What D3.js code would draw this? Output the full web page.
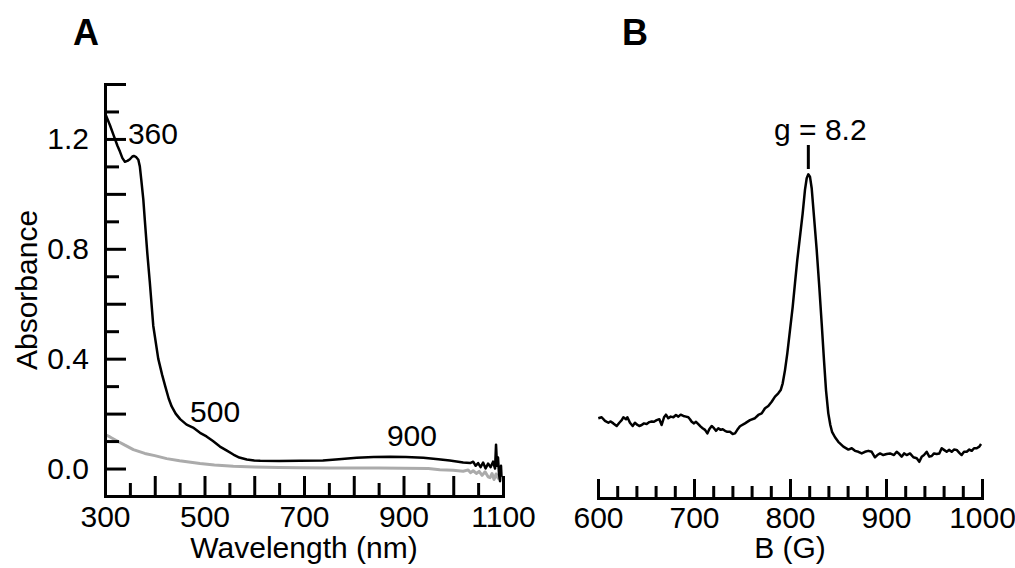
<!DOCTYPE html>
<html>
<head>
<meta charset="utf-8">
<script src="https://cdn.jsdelivr.net/npm/d3@7"></script>
<style>
  body { margin: 0; background: #fff; }
  svg { display: block; }
  text { font-family: "Liberation Sans", Arial, Helvetica, sans-serif; fill: #000; }
</style>
</head>
<body>
<div id="container"></div>
<script>
// ---- panel A: UV-vis spectrum ----
const wlSample = [302, 310, 317, 325, 330, 335, 340, 345, 350, 355, 358, 362, 367, 370, 373, 377, 380, 385, 390, 397,
  407, 415, 421, 428, 434, 442, 451, 464, 477, 491, 504, 517, 531, 545, 558, 570, 585, 600, 612, 650,
  692, 738, 770, 806, 840, 873, 905, 940, 970, 993, 1010, 1020, 1034, 1040, 1045, 1050, 1055, 1060, 1065, 1070,
  1075, 1080, 1084, 1086, 1088, 1090, 1092, 1094, 1096, 1097];
const absSample = [1.285, 1.25, 1.215, 1.175, 1.154, 1.13, 1.117, 1.12, 1.126, 1.136, 1.138, 1.135, 1.124, 1.10, 1.05, 0.98, 0.905, 0.785, 0.68, 0.52,
  0.40, 0.34, 0.30, 0.255, 0.226, 0.20, 0.18, 0.16, 0.149, 0.13, 0.117, 0.10, 0.08, 0.065, 0.051, 0.04, 0.033, 0.029, 0.028, 0.027,
  0.028, 0.029, 0.034, 0.039, 0.042, 0.043, 0.042, 0.039, 0.034, 0.029, 0.025, 0.022, 0.02, 0.025, 0.01, 0.02, 0.005, 0.022, 0.0, 0.018,
  0.005, 0.025, 0.0, 0.087, 0.01, 0.04, -0.02, -0.046, 0.01, -0.03];

const wlControl = [300, 310, 320, 330, 340, 357, 380, 400, 424, 450, 491, 520, 558, 600, 650, 692, 750, 850, 950, 973,
  1000, 1020, 1030, 1035, 1040, 1047, 1052, 1058, 1064, 1070, 1074, 1078, 1082, 1086, 1090, 1095];
const absControl = [0.124, 0.115, 0.105, 0.095, 0.085, 0.069, 0.055, 0.047, 0.036, 0.028, 0.018, 0.013, 0.008, 0.006, 0.004, 0.003, 0.002, 0.002, 0.0, -0.004,
  -0.006, -0.01, -0.005, -0.015, -0.008, -0.018, -0.01, -0.025, -0.012, -0.03, -0.033, -0.018, -0.04, -0.02, -0.035, -0.03];

const wlMajorTicks = [300, 400, 500, 600, 700, 800, 900, 1000, 1100];
const wlMinorTicks = [350, 450, 550, 650, 750, 850, 950, 1050];
const wlLabels = [300, 500, 700, 900, 1100];
const absMajorTicks = [0, 0.2, 0.4, 0.6, 0.8, 1.0, 1.2, 1.4];
const absMinorTicks = [0.1, 0.3, 0.5, 0.7, 0.9, 1.1, 1.3];
const absLabels = [0, 0.4, 0.8, 1.2];

const peakLabels = [
  { text: "360", wl: 346, abs: 1.18, anchor: "start" },
  { text: "500", wl: 471, abs: 0.17, anchor: "start" },
  { text: "900", wl: 917, abs: 0.082, anchor: "middle" },
];

// ---- panel B: EPR spectrum ----
const eprField = [600.3, 603.8, 607.3, 610.8, 613.2, 616.0, 619.5, 622.2, 624.7, 626.4, 629.2, 630.6, 633.3, 636.1, 638.5, 640.3, 643.0, 645.5, 647.9, 650.7,
  653.5, 655.9, 658.3, 661.1, 663.9, 666.3, 668.8, 670.8, 673.2, 675.7, 678.5, 681.2, 683.7, 686.1, 688.9, 691.7, 694.1, 695.8, 697.6, 700.0,
  702.1, 704.5, 707.0, 709.0, 711.5, 713.9, 715.9, 718.4, 720.8, 722.9, 725.3, 727.8, 729.9, 732.3, 734.7, 737.5, 740.3, 742.7, 745.1, 747.9,
  753.1, 758.3, 763.5, 767.0, 770.5, 774.0, 777.4, 780.9, 784.4, 787.8, 790.3, 792.4, 794.8, 797.2, 800.0, 802.8, 805.2, 807.6, 810.4, 813.2,
  815.6, 817.4, 819.1, 820.8, 822.6, 825.0, 827.8, 830.5, 833.0, 835.4, 837.5, 839.9, 842.0, 843.8, 846.9, 850.3, 855.6, 860.8, 864.3, 867.7,
  871.2, 874.7, 878.1, 881.6, 885.1, 888.5, 891.0, 893.8, 897.2, 900.7, 904.2, 908.3, 911.1, 913.9, 916.3, 918.8, 921.5, 925.0, 928.5, 932.0,
  934.7, 937.2, 939.6, 942.4, 945.1, 947.6, 950.0, 952.8, 955.5, 958.0, 960.4, 963.2, 965.9, 968.4, 970.8, 973.6, 976.4, 978.8, 981.3, 984.1,
  986.8, 989.3, 991.7, 994.5, 997.2, 999.0];
const eprSignal = [0.247, 0.250, 0.239, 0.233, 0.237, 0.231, 0.223, 0.233, 0.241, 0.250, 0.244, 0.250, 0.233, 0.223, 0.233, 0.228, 0.223, 0.226, 0.231, 0.229,
  0.235, 0.237, 0.236, 0.241, 0.244, 0.226, 0.250, 0.258, 0.247, 0.252, 0.250, 0.257, 0.252, 0.258, 0.254, 0.252, 0.250, 0.244, 0.236, 0.231,
  0.236, 0.229, 0.221, 0.216, 0.211, 0.200, 0.213, 0.223, 0.216, 0.208, 0.216, 0.211, 0.213, 0.208, 0.205, 0.205, 0.198, 0.200, 0.211, 0.222,
  0.231, 0.241, 0.247, 0.257, 0.262, 0.278, 0.285, 0.298, 0.314, 0.324, 0.334, 0.355, 0.396, 0.448, 0.520, 0.592, 0.665, 0.737, 0.809, 0.881,
  0.954, 0.990, 1.002, 0.995, 0.959, 0.871, 0.768, 0.654, 0.541, 0.427, 0.334, 0.262, 0.226, 0.205, 0.188, 0.174, 0.159, 0.150, 0.154, 0.146,
  0.143, 0.138, 0.143, 0.146, 0.143, 0.126, 0.133, 0.138, 0.133, 0.136, 0.138, 0.133, 0.143, 0.136, 0.128, 0.138, 0.133, 0.138, 0.126, 0.123,
  0.112, 0.128, 0.133, 0.143, 0.128, 0.130, 0.138, 0.136, 0.138, 0.154, 0.149, 0.143, 0.149, 0.143, 0.150, 0.149, 0.140, 0.133, 0.143, 0.143,
  0.150, 0.146, 0.154, 0.154, 0.159, 0.167];

const fieldMajorTicks = [600, 700, 800, 900, 1000];
const fieldMinorTicks = [620, 640, 660, 680, 720, 740, 760, 780, 820, 840, 860, 880, 920, 940, 960, 980];
const gPeakField = 819.1;

const width = 1015;
const height = 568;
const fontSize = 30;

const svg = d3
  .select("#container")
  .append("svg")
  .attr("width", width)
  .attr("height", height);

// panel letters
svg.append("text").attr("x", 73).attr("y", 45)
  .attr("font-size", "36px").attr("font-weight", "bold").text("A");
svg.append("text").attr("x", 622).attr("y", 45)
  .attr("font-size", "36px").attr("font-weight", "bold").text("B");

function styleAxis(g) {
  g.select(".domain").attr("stroke", "#000").attr("stroke-width", 3).attr("stroke-linecap", "square");
  g.selectAll(".tick line").attr("stroke", "#000").attr("stroke-width", 3);
  g.selectAll(".tick text").attr("font-size", `${fontSize}px`).attr("font-family", null).attr("fill", "#000");
}

// ===== panel A =====
const xA = d3.scaleLinear().domain([300, 1100]).range([105, 503]);
const yA = d3.scaleLinear().domain([-0.1, 1.4]).range([496, 84]);

const lineA = d3.line().x((d) => xA(d[0])).y((d) => yA(d[1]));

svg.append("path")
  .datum(d3.zip(wlControl, absControl))
  .attr("fill", "none").attr("stroke", "#ababab").attr("stroke-width", 3)
  .attr("stroke-linejoin", "round")
  .attr("d", lineA);

svg.append("path")
  .datum(d3.zip(wlSample, absSample))
  .attr("fill", "none").attr("stroke", "#000").attr("stroke-width", 2.5)
  .attr("stroke-linejoin", "round")
  .attr("d", lineA);

// minor ticks first, then major axis with labels
svg.append("g")
  .attr("transform", `translate(0, ${yA(-0.1)})`)
  .call(d3.axisBottom(xA).tickValues(wlMinorTicks).tickSizeInner(-13).tickSizeOuter(0).tickFormat(""))
  .call(styleAxis);
svg.append("g")
  .attr("transform", `translate(0, ${yA(-0.1)})`)
  .call(d3.axisBottom(xA).tickValues(wlMajorTicks).tickSizeInner(-20).tickSizeOuter(0).tickPadding(10)
    .tickFormat((d) => (wlLabels.includes(d) ? d : "")))
  .call(styleAxis);

svg.append("g")
  .attr("transform", `translate(${xA(300)}, 0)`)
  .call(d3.axisLeft(yA).tickValues(absMinorTicks).tickSizeInner(-14).tickSizeOuter(0).tickFormat(""))
  .call(styleAxis);
svg.append("g")
  .attr("transform", `translate(${xA(300)}, 0)`)
  .call(d3.axisLeft(yA).tickValues(absMajorTicks).tickSizeInner(-21).tickSizeOuter(0).tickPadding(16)
    .tickFormat((d) => (absLabels.some((v) => Math.abs(v - d) < 1e-6) ? d3.format(".1f")(d) : "")))
  .call(styleAxis);

svg.selectAll(".peak-label")
  .data(peakLabels)
  .enter()
  .append("text")
  .attr("class", "peak-label")
  .attr("x", (d) => xA(d.wl))
  .attr("y", (d) => yA(d.abs))
  .attr("text-anchor", (d) => d.anchor)
  .attr("font-size", `${fontSize}px`)
  .text((d) => d.text);

svg.append("text")
  .attr("x", (xA(300) + xA(1100)) / 2).attr("y", 558)
  .attr("text-anchor", "middle").attr("font-size", `${fontSize}px`)
  .text("Wavelength (nm)");

svg.append("text")
  .attr("transform", `translate(37, ${(yA(-0.1) + yA(1.4)) / 2}) rotate(-90)`)
  .attr("text-anchor", "middle").attr("font-size", `${fontSize}px`)
  .text("Absorbance");

// ===== panel B =====
const xB = d3.scaleLinear().domain([600, 1000]).range([598, 982]);
const yB = d3.scaleLinear().domain([0, 1]).range([498, 175]);

svg.append("path")
  .datum(d3.zip(eprField, eprSignal))
  .attr("fill", "none").attr("stroke", "#000").attr("stroke-width", 2.5)
  .attr("stroke-linejoin", "round")
  .attr("d", d3.line().x((d) => xB(d[0])).y((d) => yB(d[1])));

svg.append("g")
  .attr("transform", `translate(0, ${yB(0)})`)
  .call(d3.axisBottom(xB).tickValues(fieldMinorTicks).tickSizeInner(-12).tickSizeOuter(0).tickFormat(""))
  .call(styleAxis);
svg.append("g")
  .attr("transform", `translate(0, ${yB(0)})`)
  .call(d3.axisBottom(xB).tickValues(fieldMajorTicks).tickSizeInner(-19).tickSizeOuter(0).tickPadding(9)
    .tickFormat(d3.format("d")))
  .call(styleAxis);

svg.append("text")
  .attr("x", (xB(600) + xB(1000)) / 2).attr("y", 558)
  .attr("text-anchor", "middle").attr("font-size", `${fontSize}px`)
  .text("B (G)");

// g-value marker
svg.append("line")
  .attr("x1", xB(gPeakField)).attr("x2", xB(gPeakField))
  .attr("y1", 145).attr("y2", 169)
  .attr("stroke", "#000").attr("stroke-width", 3);
svg.append("text")
  .attr("x", xB(gPeakField) + 12).attr("y", 140)
  .attr("text-anchor", "middle").attr("font-size", `${fontSize}px`)
  .text("g = 8.2");
</script>
</body>
</html>
